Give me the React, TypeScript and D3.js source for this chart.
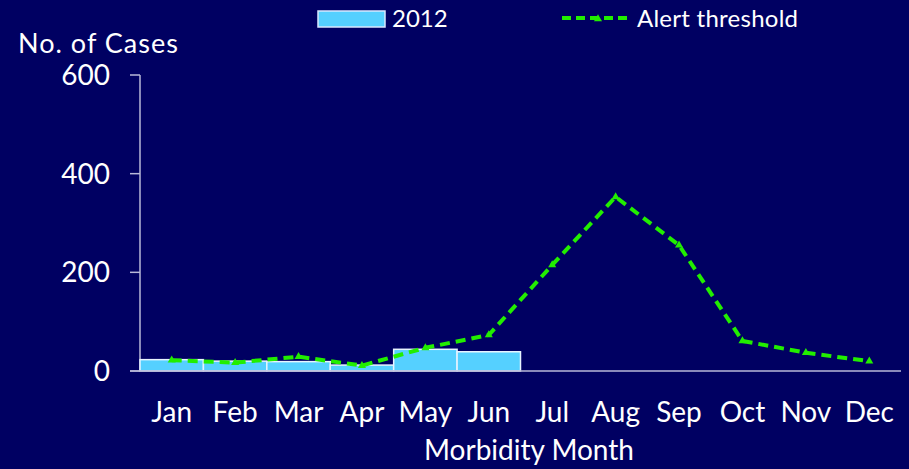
import React from 'react'
import * as d3 from 'd3'

// monthly values
const months = ['Jan', 'Feb', 'Mar', 'Apr', 'May', 'Jun', 'Jul', 'Aug', 'Sep', 'Oct', 'Nov', 'Dec']
const cases2012 = [23, 20, 19, 12, 44, 39]
const alertThreshold = [22, 17, 29, 11, 47, 73, 215, 353, 255, 61, 37, 20]
const yTicks = [0, 200, 400, 600]

const W = 909
const H = 469
const BG = '#000062'
const FONT = 'Lato, "Open Sans", sans-serif'

export default function App() {
  const x = d3.scaleBand().domain(months).range([140, 901]).padding(0)
  const y = d3.scaleLinear().domain([0, 600]).range([371, 75])

  const line = d3
    .line<number>()
    .x((d, i) => (x(months[i]) as number) + x.bandwidth() / 2)
    .y(d => y(d))

  const tri = d3.symbol().type(d3.symbolTriangle).size(28)

  return (
    <svg width={W} height={H} style={{position: 'absolute', left: 0, top: 0, background: BG}}>
      <rect width={W} height={H} fill={BG} />

      {/* legend */}
      <rect x={318} y={11} width={67} height={16} fill="#55d0ff" stroke="#d8e8ff" strokeWidth={1.5} />
      <text x={392} y={27} fill="#fff" fontFamily={FONT} fontSize={24}>2012</text>
      <line x1={562} x2={632} y1={18} y2={18} stroke="#22ee00" strokeWidth={4} strokeDasharray="9,5" />
      <path d={tri() as string} transform="translate(598,19)" fill="#22ee00" />
      <text x={637} y={27} fill="#fff" fontFamily={FONT} fontSize={24} textLength={161}>Alert threshold</text>

      {/* axis titles */}
      <text x={18} y={53} fill="#fff" fontFamily={FONT} fontSize={27} textLength={160}>No. of Cases</text>
      <text x={529} y={460} fill="#fff" fontFamily={FONT} fontSize={28} textAnchor="middle">Morbidity Month</text>

      {/* y axis */}
      <line x1={140} x2={140} y1={y(600)} y2={y(0)} stroke="#b8b8d8" strokeWidth={1.5} />
      {yTicks.map(t => (
        <g key={t}>
          <line x1={130} x2={140} y1={y(t)} y2={y(t)} stroke="#b8b8d8" strokeWidth={1.5} />
          <text x={110} y={y(t) + 10} fill="#fff" fontFamily={FONT} fontSize={28} textAnchor="end">{t}</text>
        </g>
      ))}

      {/* bars */}
      {cases2012.map((v, i) => (
        <rect
          key={months[i]}
          x={x(months[i])}
          y={y(v)}
          width={x.bandwidth()}
          height={y(0) - y(v)}
          fill="#55d0ff"
          stroke="#e8f4ff"
          strokeWidth={1.5}
        />
      ))}

      {/* x axis */}
      <line x1={130} x2={901} y1={y(0)} y2={y(0)} stroke="#b8b8d8" strokeWidth={1.5} />
      {months.map(m => (
        <text
          key={m}
          x={(x(m) as number) + x.bandwidth() / 2}
          y={422}
          fill="#fff"
          fontFamily={FONT}
          fontSize={28}
          textAnchor="middle"
        >
          {m}
        </text>
      ))}

      {/* alert threshold */}
      <path d={line(alertThreshold) as string} fill="none" stroke="#22ee00" strokeWidth={4} strokeDasharray="10,6" />
      {alertThreshold.map((v, i) => (
        <path
          key={i}
          d={tri() as string}
          transform={`translate(${(x(months[i]) as number) + x.bandwidth() / 2},${y(v)})`}
          fill="#22ee00"
        />
      ))}
    </svg>
  )
}
